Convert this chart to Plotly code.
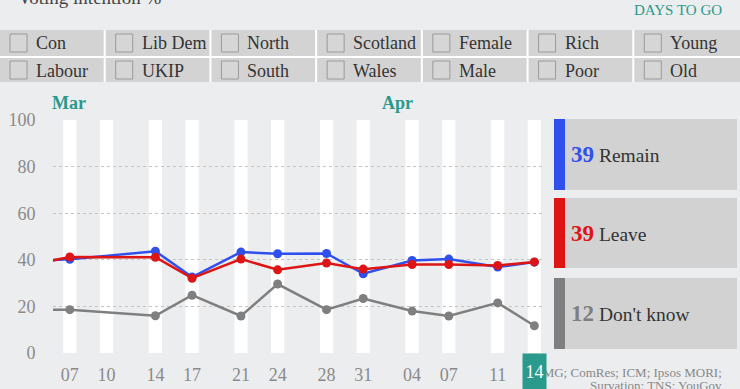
import plotly.graph_objects as go
import datetime as _dt

# ---------------- data ----------------
poll_dates = ["2016-03-03", "2016-03-07", "2016-03-14", "2016-03-17", "2016-03-21",
              "2016-03-24", "2016-03-28", "2016-03-31", "2016-04-04", "2016-04-07",
              "2016-04-11", "2016-04-14"]
remain = [39.5, 40.2, 43.7, 32.6, 43.3, 42.6, 42.7, 34.0, 39.7, 40.3, 36.9, 39.0]
leave = [37.0, 41.2, 41.1, 32.1, 40.3, 35.7, 38.6, 36.0, 38.0, 38.0, 37.6, 39.1]
dont_know = [18.6, 18.6, 16.0, 24.8, 15.9, 29.6, 18.6, 23.4, 18.0, 15.9, 21.5, 11.7]

series_names = ["Remain", "Leave", "Don't know"]
series_colors = ["#3050EE", "#DD1515", "#7F7F7F"]

tick_dates = ["2016-03-07", "2016-03-10", "2016-03-14", "2016-03-17", "2016-03-21",
              "2016-03-24", "2016-03-28", "2016-03-31", "2016-04-04", "2016-04-07",
              "2016-04-11", "2016-04-14"]
tick_labels = ["07", "10", "14", "17", "21", "24", "28", "31", "04", "07", "11", "14"]
y_ticks = [0, 20, 40, 60, 80, 100]

months = ["Mar", "Apr"]
month_starts = ["2016-03-01", "2016-04-01"]

filters_row1 = ["Con", "Lib Dem", "North", "Scotland", "Female", "Rich", "Young"]
filters_row2 = ["Labour", "UKIP", "South", "Wales", "Male", "Poor", "Old"]

title_text = "Voting intention %"
days_text = "DAYS TO GO"
source_lines = ["BMG; ComRes; ICM; Ipsos MORI;", "Survation; TNS; YouGov"]

# ---------------- layout geometry ----------------
W, H = 740, 389
L, R_EDGE, T, B = 53, 542, 120, 353
PW, PH = R_EDGE - L, B - T
BG = "#ECEDEF"
TEAL = "#2A9A8C"
SERIF = "Liberation Serif"


def px(x):
    return (x - L) / PW


def py(y):
    return (B - y) / PH


fig = go.Figure()

# lines
order = [2, 0, 1]
values = [remain, leave, dont_know]
for i in order:
    fig.add_trace(go.Scatter(
        x=poll_dates, y=values[i], mode="lines+markers",
        line=dict(color=series_colors[i], width=2.5),
        marker=dict(color=series_colors[i], size=9),
        name=series_names[i], hoverinfo="skip", showlegend=False))

shapes = []
annotations = []

# white day stripes
for d in tick_dates:
    c = _dt.datetime.fromisoformat(d)
    shapes.append(dict(type="rect", xref="x", yref="y", layer="below",
                       x0=(c - _dt.timedelta(hours=13)).isoformat(),
                       x1=(c + _dt.timedelta(hours=13)).isoformat(),
                       y0=0, y1=100, fillcolor="white", line=dict(width=0)))

# filter grid
shapes.append(dict(type="rect", xref="paper", yref="paper", x0=px(0), x1=px(W),
                   y0=py(82), y1=py(30), fillcolor="white", line=dict(width=0)))
colw = W / 7
for r, (row, (y0, y1)) in enumerate(zip([filters_row1, filters_row2], [(30, 56), (58, 82)])):
    for c, lab in enumerate(row):
        x0 = c * colw
        x1 = (c + 1) * colw - 2 if c < 6 else W
        shapes.append(dict(type="rect", xref="paper", yref="paper", x0=px(x0), x1=px(x1),
                           y0=py(y1), y1=py(y0), fillcolor="#D3D3D3", line=dict(width=0)))
        cy = (y0 + y1) / 2
        shapes.append(dict(type="rect", xref="paper", yref="paper",
                           x0=px(x0 + 10), x1=px(x0 + 27), y0=py(cy + 9), y1=py(cy - 9),
                           fillcolor="#D6D6D6", line=dict(color="#9A9A9A", width=1)))
        annotations.append(dict(xref="paper", yref="paper", x=px(x0 + 34), y=py(cy + 0.5),
                                xanchor="left", yanchor="middle", showarrow=False, text=lab,
                                font=dict(family=SERIF, size=18, color="#333333")))

# title & days to go
annotations.append(dict(xref="paper", yref="paper", x=px(16), y=py(-3), xanchor="left",
                        yanchor="middle", showarrow=False, text=title_text,
                        font=dict(family=SERIF, size=19, color="#444444")))
annotations.append(dict(xref="paper", yref="paper", x=px(724), y=py(10), xanchor="right",
                        yanchor="middle", showarrow=False, text=days_text,
                        font=dict(family=SERIF, size=15, color=TEAL)))

# month labels
annotations.append(dict(xref="paper", yref="paper", x=px(L - 3), y=py(103), xanchor="left",
                        yanchor="middle", showarrow=False, text="<b>%s</b>" % months[0],
                        font=dict(family=SERIF, size=18, color=TEAL)))
annotations.append(dict(xref="x", yref="paper", x=month_starts[1], y=py(103), xanchor="left",
                        xshift=5, yanchor="middle", showarrow=False, text="<b>%s</b>" % months[1],
                        font=dict(family=SERIF, size=18, color=TEAL)))

# right summary panel
boxes = [(119, 190), (198, 268), (278, 349)]
latest = [remain[-1], leave[-1], dont_know[-1]]
for i, (y0, y1) in enumerate(boxes):
    shapes.append(dict(type="rect", xref="paper", yref="paper", x0=px(554), x1=px(737),
                       y0=py(y1), y1=py(y0), fillcolor="#D2D2D2", line=dict(width=0)))
    shapes.append(dict(type="rect", xref="paper", yref="paper", x0=px(554), x1=px(565),
                       y0=py(y1), y1=py(y0), fillcolor=series_colors[i], line=dict(width=0)))
    annotations.append(dict(
        xref="paper", yref="paper", x=px(569), y=py((y0 + y1) / 2), xanchor="left",
        yanchor="middle", showarrow=False,
        text="<b><span style='color:%s;font-size:23px'>%d</span></b> %s"
             % (series_colors[i], round(latest[i]), series_names[i]),
        font=dict(family=SERIF, size=19.5, color="#333333")))

# source text
for k, (line, yy) in enumerate(zip(source_lines, [372, 385])):
    annotations.append(dict(xref="paper", yref="paper", x=px(724), y=py(yy), xanchor="right",
                            yanchor="middle", showarrow=False, text=line,
                            font=dict(family=SERIF, size=13, color="#888888")))

# highlighted last day label
annotations.append(dict(xref="x", yref="paper", x=tick_dates[-1], y=0, yanchor="top",
                        xanchor="center", showarrow=False, text=tick_labels[-1],
                        width=21, height=34, borderpad=1, bgcolor=TEAL,
                        font=dict(family=SERIF, size=18, color="white")))

shown_ticks = tick_labels[:-1] + [""]

fig.update_layout(
    template="none",
    width=W, height=H, autosize=False,
    margin=dict(l=L, r=W - R_EDGE, t=T, b=H - B, pad=0),
    paper_bgcolor=BG, plot_bgcolor=BG,
    shapes=shapes, annotations=annotations,
    xaxis=dict(type="date", range=["2016-03-05 15:00", "2016-04-14 15:00"], automargin=False,
               tickvals=tick_dates, ticktext=shown_ticks, showgrid=False, zeroline=False,
               showline=False, ticks="outside", ticklen=5, tickcolor="rgba(0,0,0,0)",
               tickfont=dict(family=SERIF, size=18, color="#8A8A8A")),
    yaxis=dict(range=[0, 100], tickvals=y_ticks, showgrid=True, gridcolor="#C4C4C4",
               griddash="dot", gridwidth=1, zeroline=False, showline=False, automargin=False,
               ticks="outside", ticklen=13, tickcolor="rgba(0,0,0,0)",
               tickfont=dict(family=SERIF, size=18, color="#8A8A8A")),
)

fig.write_html("out.html",
               config={"displayModeBar": False},
               post_script="document.body.style.margin='0';"
                           "document.body.style.overflow='hidden';"
                           "document.body.style.background='%s';" % BG)
